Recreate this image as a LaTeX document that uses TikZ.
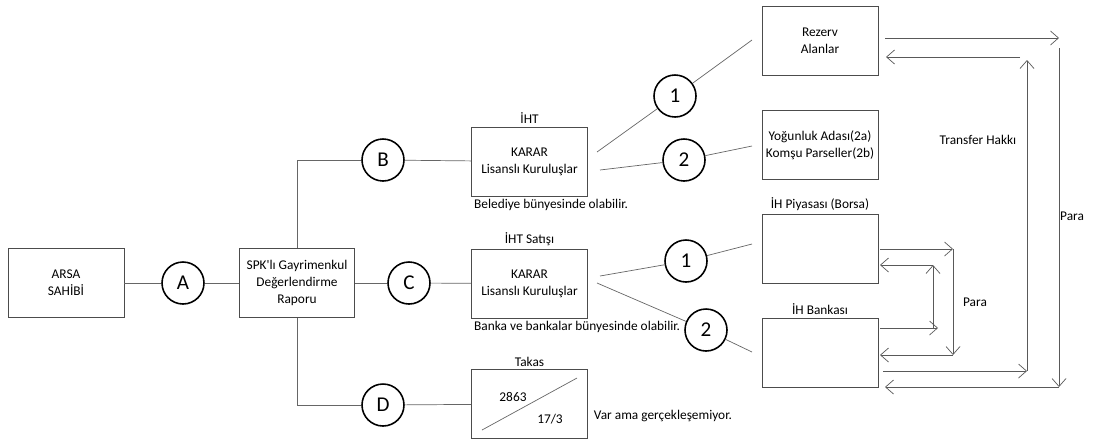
\documentclass[tikz,border=0pt]{standalone}
\usepackage{fontspec}
\setmainfont{Carlito}
\usetikzlibrary{arrows.meta}

\begin{document}
\begin{tikzpicture}[x=0.02cm,y=-0.02cm,
    box/.style={draw=black!70, minimum width=2.32cm, minimum height=1.38cm, inner sep=0pt, align=center, font=\fontsize{7.6}{9.6}\selectfont},
    knot/.style={circle, draw, line width=0.9pt, minimum size=0.84cm, inner sep=0pt, font=\fontsize{12}{14}\selectfont},
    lbl/.style={font=\fontsize{7.6}{9.6}\selectfont, inner sep=1.5pt},
    wire/.style={draw=black!60},
    flow/.style={draw=black!65, -{Straight Barb[length=1.6mm,width=2.8mm]}}]
                        \useasboundingbox (0,0) rectangle (1104,441);

                        % Draw the boxes on the left
                        \node[box] (arsa) at (66,283) {ARSA\\SAHİBİ};
                        \node[knot] (A) at (183,283) {A};
                        \node[box, minimum width=2.3cm] (spk) at (297,283) {SPK\textquotesingle lı Gayrimenkul\\Değerlendirme\\Raporu};
                        \draw[wire] (arsa) -- (A) -- (spk);

                        % Draw the three branches B, C, D
                        \node[knot] (B) at (383,160) {B};
                        \node[knot] (C) at (409,283) {C};
                        \node[knot] (D) at (383,405) {D};
                        \node[box] (iht) at (529.5,161.5) {KARAR\\Lisanslı Kuruluşlar};
                        \node[box] (ihts) at (529.5,283.5) {KARAR\\Lisanslı Kuruluşlar};
                        \node[box] (takas) at (529.5,404) {};
                        \draw[wire] (spk.north) |- (B.west);
                        \draw[wire] (spk.south) |- (D.west);
                        \draw[wire] (spk) -- (C);
                        \draw[wire] (B) -- (iht);
                        \draw[wire] (C) -- (ihts);
                        \draw[wire] (D) -- (takas);

                        % Draw the labels round the middle boxes
                        \node[lbl, anchor=south] (ihtl) at (iht.north) {İHT};
                        \node[lbl, anchor=north west] (ihtn) at (iht.south west) {Belediye bünyesinde olabilir.};
                        \node[lbl, anchor=south] (ihtsl) at (ihts.north) {İHT Satışı};
                        \node[lbl, anchor=north west] (ihtsn) at (ihts.south west) {Banka ve bankalar bünyesinde olabilir.};
                        \node[lbl, anchor=south] (takasl) at (takas.north) {Takas};
                        \node[lbl, anchor=west] (takasn) at (591,416) {Var ama gerçekleşemiyor.};

                        % Draw the split inside the Takas box
                        \coordinate (s1) at (482,430);
                        \coordinate (s2) at (577,378);
                        \draw[wire] (s1) -- (s2);
                        \node[lbl] (num) at (513,397) {2863};
                        \node[lbl] (den) at (550,419) {17/3};

                        % Draw the boxes on the right
                        \node[box] (rez) at (820,40.5) {Rezerv\\Alanlar};
                        \node[box] (yog) at (820,145) {Yoğunluk Adası(2a)\\Komşu Parseller(2b)};
                        \node[box] (piy) at (820,248.5) {};
                        \node[box] (bank) at (820,352.5) {};
                        \node[lbl, anchor=south] (piyl) at (piy.north) {İH Piyasası (Borsa)};
                        \node[lbl, anchor=south] (bankl) at (bank.north) {İH Bankası};

                        % Draw the numbered links
                        \node[knot] (b1) at (675,96) {1};
                        \node[knot] (b2) at (684,160) {2};
                        \node[knot] (c1) at (686,261) {1};
                        \node[knot] (c2) at (706,330) {2};
                        \coordinate (b1s) at (597,152);
                        \coordinate (b1e) at (752,40);
                        \coordinate (b2s) at (600,170);
                        \coordinate (b2e) at (752,146);
                        \coordinate (c1s) at (600,276);
                        \coordinate (c1e) at (752,244);
                        \coordinate (c2s) at (597,283);
                        \coordinate (c2e) at (752,352);
                        \draw[wire] (b1s) -- (b1) -- (b1e);
                        \draw[wire] (b2s) -- (b2) -- (b2e);
                        \draw[wire] (c1s) -- (c1) -- (c1e);
                        \draw[wire] (c2s) -- (c2) -- (c2e);

                        % Draw the outer Para loop
                        \coordinate (p1) at (885,38);
                        \coordinate (p2) at (1059,38);
                        \coordinate (p3) at (1059,48);
                        \coordinate (p4) at (1059,387);
                        \coordinate (p5) at (885,387);
                        \draw[flow] (p1) -- (p2);
                        \draw[flow] (p3) -- (p4);
                        \draw[flow] (p4) -- (p5);
                        \node[lbl] (para1) at (1072,216) {Para};

                        % Draw the Transfer Hakkı loop
                        \coordinate (h1) at (883,371);
                        \coordinate (h2) at (1027,371);
                        \coordinate (h3) at (1027,60);
                        \coordinate (h4) at (1020,57);
                        \coordinate (h5) at (886,57);
                        \draw[flow] (h1) -- (h2);
                        \draw[flow] (h2) -- (h3);
                        \draw[flow] (h4) -- (h5);
                        \node[lbl] (hakki) at (978,140) {Transfer Hakkı};

                        % Draw the inner Para loops
                        \coordinate (q1) at (880,249);
                        \coordinate (q2) at (953,249);
                        \coordinate (q3) at (953,355);
                        \coordinate (q4) at (880,355);
                        \draw[flow] (q1) -- (q2);
                        \draw[flow] (q2) -- (q3);
                        \draw[flow] (q3) -- (q4);
                        \coordinate (r1) at (880,328);
                        \coordinate (r2) at (938,328);
                        \coordinate (r3) at (933,328);
                        \coordinate (r4) at (933,265);
                        \coordinate (r5) at (880,265);
                        \draw[flow] (r1) -- (r2);
                        \draw[flow] (r3) -- (r4);
                        \draw[flow] (r4) -- (r5);
                        \node[lbl] (para2) at (975,302) {Para};
                      \end{tikzpicture}
\end{document}
